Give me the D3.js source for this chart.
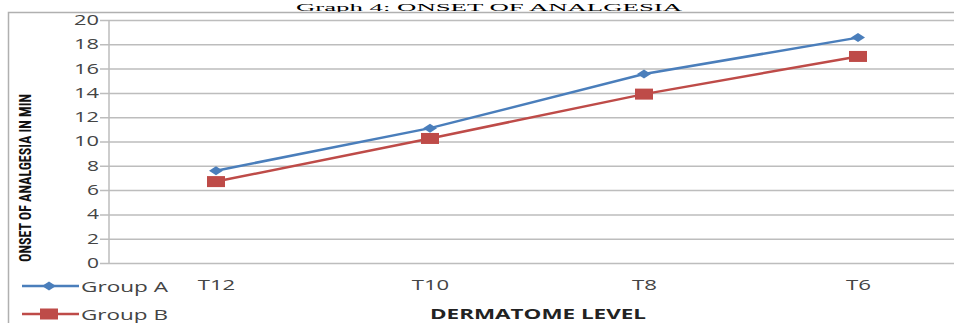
<!DOCTYPE html>
<html lang="en">
<head>
    <meta charset="UTF-8">
    <title>Graph 4: ONSET OF ANALGESIA</title>
    <script src="https://d3js.org/d3.v7.min.js"></script>
    <style>
        body { margin: 0; background: #fff; }
        svg { display: block; }
        .tick text { font-family: "Open Sans", sans-serif; fill: #444; }
    </style>
</head>
<body>
    <svg width="954" height="323"></svg>
    <script>
        // chart data
        const levels = ["T12", "T10", "T8", "T6"];
        const groupA = [7.6, 11.1, 15.55, 18.55];
        const groupB = [6.7, 10.25, 13.9, 17.0];
        const yTicks = [0, 2, 4, 6, 8, 10, 12, 14, 16, 18, 20];
        const seriesNames = ["Group A", "Group B"];

        const svg = d3.select("svg");
        const blue = "#4a7ebb", red = "#be4b48";

        // plot area (runs off the right edge, as in the original scan)
        const plotLeft = 109, plotRight = 965, plotTop = 20, plotBottom = 263;

        const x = d3.scalePoint().domain(levels).range([plotLeft, plotRight]).padding(0.5);
        const y = d3.scaleLinear().domain([0, 20]).range([plotBottom, plotTop]);

        // title squeezed into the strip above the frame
        svg.append("text")
            .attr("x", 489).attr("y", 10.5)
            .attr("text-anchor", "middle")
            .attr("font-family", "Liberation Serif, Times New Roman, serif")
            .attr("font-size", 11)
            .attr("textLength", 386)
            .attr("lengthAdjust", "spacingAndGlyphs")
            .text("Graph 4: ONSET OF ANALGESIA");

        // outer frame
        svg.append("path")
            .attr("d", "M8.5,323 V12.5 H954")
            .attr("fill", "none")
            .attr("stroke", "#b0b0b0")
            .attr("stroke-width", 1.5);

        // y axis with gridlines
        const yAxis = svg.append("g")
            .attr("transform", `translate(${plotLeft},0)`)
            .call(d3.axisLeft(y).tickValues(yTicks).tickSize(-(954 - plotLeft)).tickSizeOuter(0).tickPadding(14));
        yAxis.select(".domain").remove();
        yAxis.selectAll(".tick line")
            .attr("x1", -9)
            .attr("stroke", "#bdbdbd")
            .attr("stroke-width", 1.5);
        yAxis.selectAll(".tick text")
            .attr("font-size", 14)
            .attr("dx", 4)
            .attr("textLength", d => d >= 10 ? 25 : 12)
            .attr("lengthAdjust", "spacingAndGlyphs");

        svg.append("line")
            .attr("x1", plotLeft).attr("x2", plotLeft)
            .attr("y1", plotTop).attr("y2", plotBottom)
            .attr("stroke", "#bdbdbd").attr("stroke-width", 1.5);

        // x axis labels
        const xAxis = svg.append("g")
            .attr("transform", `translate(0,${plotBottom})`)
            .call(d3.axisBottom(x).tickSize(0).tickPadding(16));
        xAxis.select(".domain").remove();
        xAxis.selectAll(".tick text")
            .attr("font-size", 15)
            .attr("textLength", d => d.length * 12.5)
            .attr("lengthAdjust", "spacingAndGlyphs");

        // axis titles
        svg.append("text")
            .attr("transform", "translate(31,178) rotate(-90)")
            .attr("text-anchor", "middle")
            .attr("font-family", "Liberation Sans Narrow, Roboto Condensed, sans-serif")
            .attr("font-weight", "bold")
            .attr("font-size", 17)
            .attr("textLength", 168)
            .attr("lengthAdjust", "spacingAndGlyphs")
            .attr("fill", "#111")
            .text("ONSET OF ANALGESIA IN MIN");

        svg.append("text")
            .attr("x", 538).attr("y", 319)
            .attr("text-anchor", "middle")
            .attr("font-family", "Open Sans, sans-serif")
            .attr("font-weight", "bold")
            .attr("font-size", 14)
            .attr("textLength", 216)
            .attr("lengthAdjust", "spacingAndGlyphs")
            .attr("fill", "#222")
            .text("DERMATOME LEVEL");

        // series
        const line = d3.line().x((d, i) => x(levels[i])).y(d => y(d));

        svg.append("path").datum(groupB)
            .attr("d", line).attr("fill", "none")
            .attr("stroke", red).attr("stroke-width", 2.5);
        svg.append("path").datum(groupA)
            .attr("d", line).attr("fill", "none")
            .attr("stroke", blue).attr("stroke-width", 2.5);

        svg.selectAll("rect.mb").data(groupB).join("rect")
            .attr("class", "mb")
            .attr("x", (d, i) => x(levels[i]) - 9)
            .attr("y", d => y(d) - 5.5)
            .attr("width", 18).attr("height", 11)
            .attr("fill", red);

        const diamond = (cx, cy) => `M${cx - 7},${cy} L${cx},${cy - 4.5} L${cx + 7},${cy} L${cx},${cy + 4.5} Z`;
        svg.selectAll("path.ma").data(groupA).join("path")
            .attr("class", "ma")
            .attr("d", (d, i) => diamond(x(levels[i]), y(d)))
            .attr("fill", blue);

        // legend
        const legend = svg.append("g");
        seriesNames.forEach((name, i) => {
            const ly = 286 + i * 28;
            const col = i === 0 ? blue : red;
            legend.append("line")
                .attr("x1", 22).attr("x2", 79)
                .attr("y1", ly).attr("y2", ly)
                .attr("stroke", col).attr("stroke-width", 2.5);
            if (i === 0) {
                legend.append("path").attr("d", diamond(49, ly)).attr("fill", col);
            } else {
                legend.append("rect")
                    .attr("x", 40).attr("y", ly - 5.5)
                    .attr("width", 18).attr("height", 11)
                    .attr("fill", col);
            }
            legend.append("text")
                .attr("x", 81).attr("y", ly + 5.5)
                .attr("font-family", "Open Sans, sans-serif")
                .attr("font-size", 15)
                .attr("textLength", 87)
                .attr("lengthAdjust", "spacingAndGlyphs")
                .attr("fill", "#444")
                .text(name);
        });
    </script>
</body>
</html>
